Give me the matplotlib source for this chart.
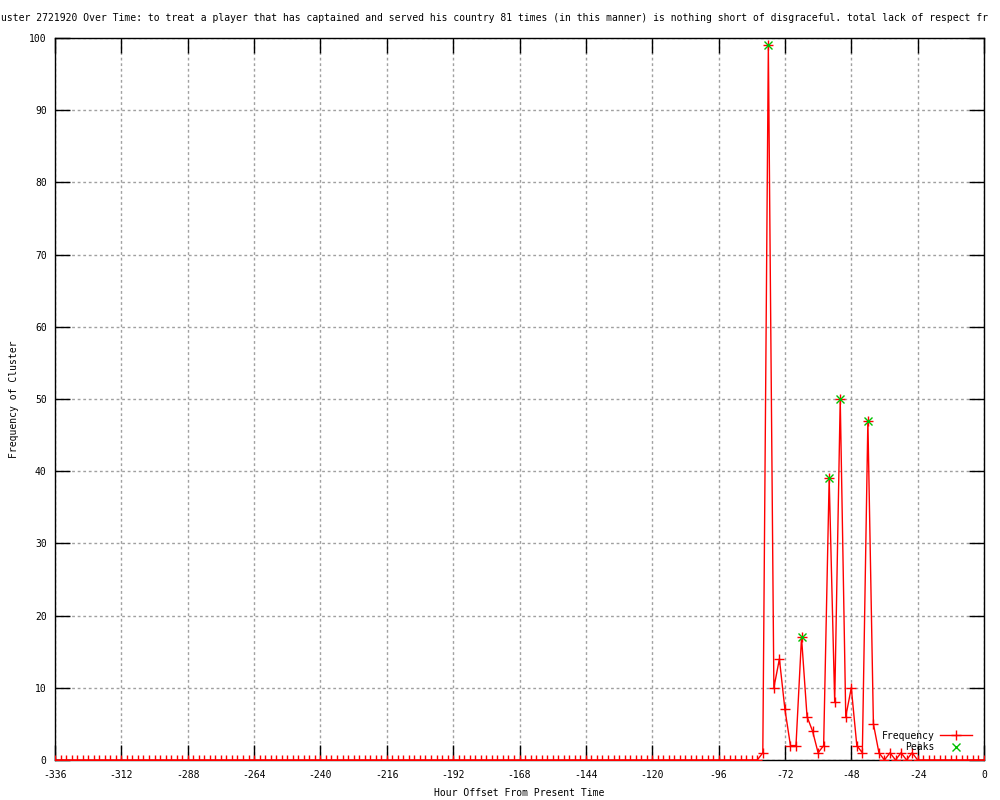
import matplotlib
matplotlib.use('Agg')
import matplotlib.pyplot as plt

plt.rcParams['font.family'] = 'DejaVu Sans Mono'
plt.rcParams['font.size'] = 7
plt.rcParams['axes.unicode_minus'] = False

# hourly bins, every 2 hours over the last two weeks
hours = list(range(-336, 2, 2))
freq = ([0] * 128
        + [1, 99, 10, 14, 7, 2, 2, 17, 6, 4, 1, 2, 39, 8,
           50, 6, 10, 2, 1, 47, 5, 1, 0, 1, 0, 1, 0, 1]
        + [0] * 13)

peak_hours = [-78, -66, -56, -52, -42]
peak_freq = [99, 17, 39, 50, 47]

xticks = list(range(-336, 1, 24))
yticks = list(range(0, 101, 10))

# the title is wider than the image in the original, only this part shows
title = ("uster 2721920 Over Time: to treat a player that has captained and served "
         "his country 81 times (in this manner) is nothing short of disgraceful. "
         "total lack of respect fr")


def main():
    fig = plt.figure(figsize=(10, 8), dpi=100)
    ax = fig.add_axes([0.055, 0.05, 0.929, 0.9025])

    ax.plot(hours, freq, '-', color='#ff0000', lw=1, marker='+', ms=7, mew=1,
            label='Frequency', zorder=3)
    ax.plot(peak_hours, peak_freq, 'x', color='#00c000', ms=6, mew=1,
            label='Peaks', zorder=4)

    ax.set_xlim(-336, 0)
    ax.set_ylim(0, 100)
    ax.set_xticks(xticks)
    ax.set_yticks(yticks)
    ax.tick_params(direction='in', length=11, width=1, top=True, right=True,
                   color='black')
    ax.tick_params(axis='x', pad=7)
    ax.tick_params(axis='y', pad=6)
    ax.grid(True, color='#a0a0a0', ls=(0, (2, 2)), lw=1)
    for s in ax.spines.values():
        s.set_linewidth(1)

    ax.set_xlabel('Hour Offset From Present Time', labelpad=6)
    ax.set_ylabel('Frequency of Cluster', labelpad=7)

    fig.text(0.001, 0.977, title, ha='left', va='center')

    ax.legend(loc='lower right', bbox_to_anchor=(0.995, 0.0), frameon=False,
              markerfirst=False, handlelength=3.2, labelspacing=0.15,
              borderpad=0.3, handletextpad=0.6)

    fig.savefig('out.png', dpi=100)


if __name__ == "__main__":
    main()
